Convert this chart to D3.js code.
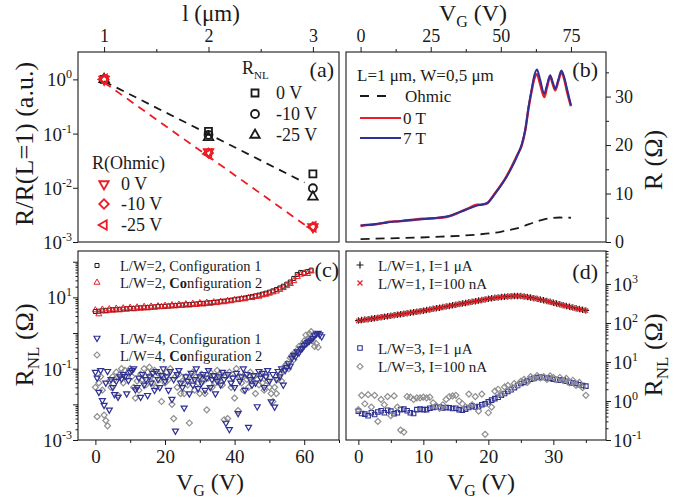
<!DOCTYPE html>
<html>
<head>
<meta charset="utf-8">
<script src="https://cdn.jsdelivr.net/npm/d3@7"></script>
<style>
  body { margin: 0; background: #fff; }
  svg { font-family: "Liberation Serif", "Times New Roman", serif; }
</style>
</head>
<body>
<svg id="fig" width="690" height="498"></svg>
<script>
// ---- panel (a): normalised R vs length
var lengths = [1, 2, 3];
var rnl0V = [1, 0.11, 0.018];
var rnl10V = [1, 0.095, 0.0098];
var rnl25V = [1, 0.085, 0.0068];
var ohm0V = [1, 0.046, 0.0019];
var ohm10V = [1, 0.044, 0.0019];
var ohm25V = [1, 0.042, 0.0019];
var fitRnl = [[1, 0.92], [2.92, 0.0125]];
var fitOhm = [[1, 0.88], [2.95, 0.0019]];

// ---- panel (b): R vs VG
var vgB = [0, 2, 5, 8, 10.5, 14, 18, 22, 26, 30, 32, 34, 36.5, 39, 41.5, 43, 45, 46.5, 48, 50, 52, 54, 56, 57.5, 58.7, 59.9, 61, 62, 62.9, 64, 65.5, 66.5, 67.6, 68.5, 69.4, 70.5, 71.6, 72.6, 73.6, 75];
var r7T = [3.4, 3.5, 3.7, 3.9, 4.1, 4.3, 4.6, 4.7, 4.9, 5.2, 5.4, 5.9, 6.4, 7.0, 7.5, 7.7, 8.0, 8.8, 10.0, 11.6, 13.4, 15.5, 18.0, 20.2, 23.1, 27.9, 31.5, 34.5, 35.6, 33.5, 30.6, 32.5, 34.4, 33.0, 31.6, 33.5, 35.4, 34.0, 31.6, 28.2];
var r0T = [3.3, 3.5, 3.6, 3.9, 4.2, 4.3, 4.5, 4.8, 4.9, 5.1, 5.4, 5.8, 6.5, 7.1, 7.7, 7.7, 7.9, 8.9, 10.1, 11.7, 13.5, 15.7, 18.1, 20.0, 23.0, 27.6, 31.2, 33.8, 34.6, 32.6, 29.9, 32.0, 34.1, 32.6, 31.3, 33.2, 35.0, 33.6, 31.0, 28.0];
var vgOhm = [0, 10, 20, 28.6, 36, 42.9, 47, 50, 53, 55.7, 58.5, 61.6, 64.5, 67.6, 71, 75];
var rOhm = [0.6, 0.75, 0.9, 1.1, 1.3, 1.6, 1.85, 2.1, 2.45, 2.8, 3.35, 4.0, 4.5, 4.9, 5.05, 5.0];

// ---- panel (c): RNL vs VG (VG step 1 V for L/W=2, 0.5 V for L/W=4)
var lw2conf1 = [4.0, 4.1, 4.2, 4.3, 4.4, 4.5, 4.5, 4.6, 4.7, 4.8, 4.9, 4.9, 5.0, 5.1, 5.1, 5.2, 5.3, 5.4, 5.5, 5.6,
  5.6, 5.7, 5.8, 5.9, 6.0, 6.1, 6.2, 6.3, 6.4, 6.5, 6.7, 6.8, 6.9, 7.1, 7.2, 7.4, 7.6, 7.8, 8.0, 8.3,
  8.6, 8.9, 9.2, 9.6, 10.0, 10.5, 11.0, 11.6, 12.3, 13.1, 14.0, 15.2, 16.6, 18.4, 20.6, 23.5, 27, 34, 44, 50,
  47, 53, 58];
var lw2conf2 = [4.4, 3.4, 4.6, 4.1, 4.7, 4.3, 4.9, 4.4, 5.0, 4.6, 5.2, 4.7, 5.3, 4.9, 5.5, 5.0, 5.6, 5.2, 5.7, 5.4,
  5.9, 5.6, 6.1, 5.7, 6.3, 5.9, 6.5, 6.0, 6.7, 6.2, 7.0, 6.4, 7.2, 6.7, 7.4, 7.0, 7.7, 7.4, 8.1, 7.9,
  8.6, 8.5, 9.1, 9.0, 9.8, 9.7, 10.6, 10.6, 11.5, 12.0, 12.9, 14.0, 14.8, 16.5, 18.5, 21, 24, 29, 38, 44,
  48, 46, 54];
var lw4conf1 = [0.08, 0.055, 0.022, 0.09, 0.013, 0.0095, 0.04, 0.085, 0.007, 0.05, 0.03,
  0.019, 0.045, 0.016, 0.06, 0.052, 0.07, 0.061, 0.02, 0.047, 0.08,
  0.09, 0.1, 0.026, 0.03, 0.055, 0.016, 0.07, 0.035, 0.05, 0.018,
  0.06, 0.04, 0.075, 0.025, 0.085, 0.05, 0.03, 0.065, 0.1, 0.045,
  0.06, 0.025, 0.085, 0.014, 0.05, 0.0018, 0.07, 0.09, 0.04, 0.03,
  0.008, 0.06, 0.045, 0.02, 0.075, 0.035, 0.05, 0.1, 0.028, 0.06,
  0.04, 0.07, 0.025, 0.055, 0.09, 0.03, 0.05, 0.065, 0.02, 0.045,
  0.06, 0.035, 0.08, 0.05, 0.003, 0.07, 0.002, 0.04, 0.055, 0.03,
  0.075, 0.0056, 0.045, 0.06, 0.1, 0.025, 0.07, 0.0023, 0.05, 0.035,
  0.065, 0.04, 0.0087, 0.085, 0.055, 0.075, 0.03, 0.06, 0.09, 0.045,
  0.012, 0.07, 0.0085, 0.05, 0.085, 0.06, 0.1, 0.035, 0.09, 0.11,
  0.14, 0.12, 0.2, 0.24, 0.22, 0.3, 0.28, 0.36, 0.38, 0.45,
  0.5, 0.55, 0.6, 0.65, 0.72, 0.85, 0.95, 1.0, 0.9, 0.8];
var lw4conf2 = [0.03, 0.0045, 0.04, 0.06, 0.025, 0.005, 0.0035, 0.0025, 0.045, 0.03, 0.06,
  0.05, 0.08, 0.018, 0.07, 0.1, 0.04, 0.09, 0.06, 0.08, 0.1,
  0.06, 0.03, 0.015, 0.045, 0.025, 0.07, 0.05, 0.1, 0.035, 0.08,
  0.11, 0.06, 0.04, 0.09, 0.03, 0.075, 0.05, 0.012, 0.065, 0.04,
  0.08, 0.05, 0.1, 0.01, 0.004, 0.06, 0.03, 0.07, 0.02, 0.045,
  0.02, 0.06, 0.035, 0.003, 0.05, 0.08, 0.025, 0.06, 0.04, 0.02,
  0.07, 0.045, 0.02, 0.007, 0.055, 0.08, 0.03, 0.06, 0.04, 0.09,
  0.05, 0.07, 0.035, 0.0037, 0.06, 0.004, 0.08, 0.03, 0.055, 0.015,
  0.1, 0.0067, 0.06, 0.04, 0.025, 0.07, 0.05, 0.03, 0.08, 0.045,
  0.06, 0.02, 0.05, 0.035, 0.07, 0.04, 0.025, 0.06, 0.045, 0.03,
  0.02, 0.012, 0.03, 0.02, 0.05, 0.07, 0.045, 0.09, 0.12, 0.14,
  0.1, 0.2, 0.24, 0.18, 0.3, 0.28, 0.42, 0.35, 0.5, 0.6,
  0.88, 0.7, 0.95, 1.1, 0.6, 0.42, 0.5, 0.4];

// ---- panel (d): RNL vs VG, VG step 0.5 V from 0 to 35 V
var lw1i1uA = [115, 118.5, 122, 125.5, 129, 133, 137, 141, 145, 149.5, 154,
  158.5, 163, 168, 173, 178, 183, 189, 195, 201, 207,
  214, 222, 230, 238, 246, 255, 264, 274, 284, 295,
  305, 316, 327, 338, 350, 362, 375, 388, 402, 417,
  430, 442, 453, 463, 472, 480, 487, 492, 493, 490,
  478, 464, 449, 433, 416, 399, 382, 365, 348, 330,
  315, 300, 286, 273, 260, 248, 237, 227, 218, 210];
var lw1i100nA = [113, 117, 121, 124, 128, 132, 136, 140, 144, 148, 153,
  157, 162, 167, 172, 177, 182, 188, 194, 200, 206,
  213, 220, 228, 236, 245, 254, 263, 272, 283, 293,
  303, 314, 325, 336, 348, 360, 372, 386, 400, 414,
  427, 440, 451, 461, 470, 478, 485, 490, 491, 488,
  476, 462, 447, 431, 414, 397, 380, 363, 346, 329,
  313, 298, 284, 271, 258, 246, 235, 225, 216, 208];
var lw3i1uA = [0.55, 0.48, 0.46, 0.42, 0.5, 0.45, 0.52, 0.56, 0.5, 0.58, 0.55,
  0.47, 0.5, 0.6, 0.62, 0.56, 0.5, 0.48, 0.6, 0.62, 0.6,
  0.6, 0.65, 0.68, 0.7, 0.7, 0.66, 0.68, 0.67, 0.64, 0.65,
  0.6, 0.58, 0.62, 0.68, 0.75, 0.7, 0.72, 0.8, 0.85, 0.95,
  1.05, 1.15, 1.25, 1.4, 1.55, 1.75, 1.95, 2.2, 2.5, 2.8,
  3.0, 3.3, 3.6, 3.8, 4.0, 4.1, 4.0, 3.9, 3.8, 3.6,
  3.5, 3.4, 3.5, 3.2, 3.0, 2.9, 2.8, 2.6, 2.5, 2.4];
var lw3i100nA = [0.6, 1.4, 0.85, 1.45, 0.7, 1.4, 0.3, 1.1, 0.8, 1.3, 0.42,
  1.35, 0.7, 0.18, 0.16, 1.3, 1.25, 1.1, 1.2, 1.2, 1.25,
  1.2, 1.25, 0.9, 0.75, 0.65, 0.8, 1.1, 1.3, 1.35, 1.4,
  1.0, 0.85, 0.7, 1.5, 0.8, 1.3, 0.55, 1.5, 0.14, 0.5,
  0.7, 1.8, 2.0, 1.5, 2.3, 2.5, 2.0, 2.8, 2.5, 3.2,
  3.6, 3.0, 4.2, 3.8, 4.5, 3.9, 4.2, 3.6, 4.4, 4.0,
  3.5, 4.0, 3.3, 3.8, 2.9, 3.4, 2.5, 3.0, 2.2, 1.4];

var RED = "#ec1c24", BLUE = "#2e3192", GRAY = "#8f8f8f", INK = "#1a1a1a";

var svg = d3.select("#fig");

// panel frames
var A = {l: 78, r: 339, t: 52, b: 242};
var B = {l: 346, r: 606, t: 52, b: 242};
var C = {l: 78, r: 339, t: 251, b: 440};
var D = {l: 346, r: 606, t: 251, b: 440};

var xa = d3.scaleLinear().domain([0.75, 3.25]).range([A.l, A.r]);
var ya = d3.scaleLog().domain([1e-3, 3.2]).range([A.b, A.t]);
var xb = d3.scaleLinear().domain([-5.2, 87.5]).range([B.l, B.r]);
var yb = d3.scaleLinear().domain([0, 39.2]).range([B.b, B.t]);
var xc = d3.scaleLinear().domain([-5, 70]).range([C.l, C.r]);
var yc = d3.scaleLog().domain([1e-3, 200]).range([C.b, C.t]);
var xd = d3.scaleLinear().domain([-1.9, 38.1]).range([D.l, D.r]);
var yd = d3.scaleLog().domain([0.1, 7000]).range([D.b, D.t]);

function steps(n, dv) { return d3.range(n).map(function(i){ return i * dv; }); }

function minorLog(lo, hi) {
  var out = [];
  for (var e = lo; e < hi; e++) for (var m = 2; m <= 9; m++) out.push(m * Math.pow(10, e));
  return out;
}

function styleAxis(g) {
  g.select(".domain").remove();
  g.selectAll(".tick line").attr("stroke", INK).attr("stroke-width", 1);
  g.selectAll(".tick text").attr("fill", INK);
}

function supLabel(sel, exp) {
  sel.append("tspan").text("10");
  sel.append("tspan").attr("dy", -8).attr("font-size", 12).text(exp);
}

// ---------- axes ----------
// (a) top linear, left log
svg.append("g").attr("transform", "translate(0," + A.t + ")")
  .call(d3.axisTop(xa).tickValues([1, 2, 3]).tickSize(5).tickPadding(5).tickFormat(d3.format("d")))
  .call(styleAxis).attr("font-family", null).attr("font-size", 18);
svg.append("g").attr("transform", "translate(0," + A.t + ")")
  .call(d3.axisTop(xa).tickValues([1.5, 2.5]).tickSize(3).tickFormat(""))
  .call(styleAxis);
svg.append("g").attr("transform", "translate(" + A.l + ",0)")
  .call(d3.axisLeft(ya).tickValues([1e-3, 1e-2, 1e-1, 1]).tickSize(5).tickFormat(""))
  .call(styleAxis);
[-3, -2, -1, 0].forEach(function(e){
  var t = svg.append("text").attr("x", 72).attr("y", ya(Math.pow(10, e)) + 7)
    .attr("text-anchor", "end").attr("font-size", 19).attr("fill", INK);
  supLabel(t, e);
});

// (b) top linear, right linear
svg.append("g").attr("transform", "translate(0," + B.t + ")")
  .call(d3.axisTop(xb).tickValues([0, 25, 50, 75]).tickSize(5).tickPadding(5).tickFormat(d3.format("d")))
  .call(styleAxis).attr("font-family", null).attr("font-size", 18);
svg.append("g").attr("transform", "translate(0," + B.t + ")")
  .call(d3.axisTop(xb).tickValues([12.5, 37.5, 62.5]).tickSize(3).tickFormat(""))
  .call(styleAxis);
svg.append("g").attr("transform", "translate(" + B.r + ",0)")
  .call(d3.axisRight(yb).tickValues([0, 10, 20, 30]).tickSize(5).tickPadding(4).tickFormat(d3.format("d")))
  .call(styleAxis).attr("font-family", null).attr("font-size", 18);
svg.append("g").attr("transform", "translate(" + B.r + ",0)")
  .call(d3.axisRight(yb).tickValues([5, 15, 25, 35]).tickSize(3).tickFormat(""))
  .call(styleAxis);

// (c) bottom linear, left log
svg.append("g").attr("transform", "translate(0," + C.b + ")")
  .call(d3.axisBottom(xc).tickValues([0, 20, 40, 60]).tickSize(5).tickPadding(5).tickFormat(d3.format("d")))
  .call(styleAxis).attr("font-family", null).attr("font-size", 19);
svg.append("g").attr("transform", "translate(0," + C.b + ")")
  .call(d3.axisBottom(xc).tickValues([10, 30, 50, 70]).tickSize(3).tickFormat(""))
  .call(styleAxis);
svg.append("g").attr("transform", "translate(" + C.l + ",0)")
  .call(d3.axisLeft(yc).tickValues([1e-3, 1e-2, 1e-1, 1, 10, 100]).tickSize(5).tickFormat(""))
  .call(styleAxis);
svg.append("g").attr("transform", "translate(" + C.l + ",0)")
  .call(d3.axisLeft(yc).tickValues(minorLog(-3, 2).filter(function(v){ return v <= 200; })).tickSize(2.5).tickFormat(""))
  .call(styleAxis);
[-3, -1, 1].forEach(function(e){
  var t = svg.append("text").attr("x", 72).attr("y", yc(Math.pow(10, e)) + 7)
    .attr("text-anchor", "end").attr("font-size", 19).attr("fill", INK);
  supLabel(t, e);
});

// (d) bottom linear, right log
svg.append("g").attr("transform", "translate(0," + D.b + ")")
  .call(d3.axisBottom(xd).tickValues([0, 10, 20, 30]).tickSize(5).tickPadding(5).tickFormat(d3.format("d")))
  .call(styleAxis).attr("font-family", null).attr("font-size", 19);
svg.append("g").attr("transform", "translate(0," + D.b + ")")
  .call(d3.axisBottom(xd).tickValues([5, 15, 25, 35]).tickSize(3).tickFormat(""))
  .call(styleAxis);
svg.append("g").attr("transform", "translate(" + D.r + ",0)")
  .call(d3.axisRight(yd).tickValues([0.1, 1, 10, 100, 1000]).tickSize(5).tickFormat(""))
  .call(styleAxis);
svg.append("g").attr("transform", "translate(" + D.r + ",0)")
  .call(d3.axisRight(yd).tickValues(minorLog(-1, 4).filter(function(v){ return v <= 7000; })).tickSize(2.5).tickFormat(""))
  .call(styleAxis);
[-1, 0, 1, 2, 3].forEach(function(e){
  var t = svg.append("text").attr("x", D.r + 7).attr("y", yd(Math.pow(10, e)) + 7)
    .attr("font-size", 19).attr("fill", INK);
  supLabel(t, e);
});

// frames
[A, B, C, D].forEach(function(p){
  svg.append("rect").attr("x", p.l).attr("y", p.t).attr("width", p.r - p.l).attr("height", p.b - p.t)
    .attr("fill", "none").attr("stroke", INK).attr("stroke-width", 1.1);
});

// ---------- markers ----------
// s = visual width of the marker in px
function marker(g, kind, x, y, s, color, sw) {
  var p;
  if (kind === "plus" || kind === "x") {
    var h = s / 2;
    p = g.append("path").attr("d", "M" + (-h) + ",0H" + h + "M0," + (-h) + "V" + h)
      .attr("fill", "none")
      .attr("transform", "translate(" + x + "," + y + ")" + (kind === "x" ? " rotate(45)" : ""));
  } else {
    var type, area, rot = 0;
    if (kind === "square") { type = d3.symbolSquare; area = s * s; }
    else if (kind === "circle") { type = d3.symbolCircle; area = Math.PI / 4 * s * s; }
    else if (kind === "diamond") { type = d3.symbolSquare; area = s * s / 2; rot = 45; }
    else { type = d3.symbolTriangle; area = Math.sqrt(3) / 4 * s * s;
      rot = kind === "down" ? 180 : (kind === "left" ? -90 : 0); }
    p = g.append("path").attr("d", d3.symbol().type(type).size(area)())
      .attr("transform", "translate(" + x + "," + y + ") rotate(" + rot + ")")
      .attr("fill", "none");
  }
  p.attr("stroke", color).attr("stroke-width", sw);
  return p;
}

function scatter(xs, ys, sx, sy, kind, s, color, sw) {
  var g = svg.append("g");
  ys.forEach(function(v, i){ marker(g, kind, sx(xs[i]), sy(v), s, color, sw); });
}

// ---------- panel (a) ----------
var dashLine = d3.line().x(function(d){ return xa(d[0]); }).y(function(d){ return ya(d[1]); });
svg.append("path").attr("d", dashLine(fitRnl)).attr("fill", "none").attr("stroke", INK)
  .attr("stroke-width", 1.8).attr("stroke-dasharray", "8,6");
svg.append("path").attr("d", dashLine(fitOhm)).attr("fill", "none").attr("stroke", RED)
  .attr("stroke-width", 1.8).attr("stroke-dasharray", "8,6");
scatter(lengths, rnl0V, xa, ya, "square", 7, INK, 1.8);
scatter(lengths, rnl10V, xa, ya, "circle", 8, INK, 1.8);
scatter(lengths, rnl25V, xa, ya, "tri", 9.5, INK, 1.8);
scatter(lengths, ohm0V, xa, ya, "down", 9.5, RED, 1.8);
scatter(lengths, ohm10V, xa, ya, "diamond", 9, RED, 1.8);
scatter(lengths, ohm25V, xa, ya, "left", 9.5, RED, 1.8);

// legend (a)
var la = svg.append("g").attr("font-size", 18).attr("fill", INK);
var rt = la.append("text").attr("x", 242).attr("y", 74);
rt.append("tspan").text("R");
rt.append("tspan").attr("dy", 5).attr("font-size", 11).text("NL");
[["square", "0 V", 93, 7], ["circle", "-10 V", 114, 8], ["tri", "-25 V", 135, 9.5]].forEach(function(e){
  marker(la, e[0], 255, e[2], e[3], INK, 1.8);
  la.append("text").attr("x", 276).attr("y", e[2] + 6).text(e[1]);
});
la.append("text").attr("x", 92).attr("y", 169).text("R(Ohmic)");
[["down", "0 V", 184], ["diamond", "-10 V", 204], ["left", "-25 V", 225]].forEach(function(e){
  marker(la, e[0], 104, e[2], 9.5, RED, 1.8);
  la.append("text").attr("x", 121).attr("y", e[2] + 6).text(e[1]);
});
svg.append("text").attr("x", 334).attr("y", 77).attr("text-anchor", "end")
  .attr("font-size", 22).attr("fill", INK).text("(a)");

// ---------- panel (b) ----------
function lineB(xs, ys) {
  return d3.line().curve(d3.curveMonotoneX)
    .x(function(d, i){ return xb(xs[i]); }).y(function(d){ return yb(d); })(ys);
}
svg.append("path").attr("d", lineB(vgOhm, rOhm)).attr("fill", "none").attr("stroke", INK)
  .attr("stroke-width", 1.8).attr("stroke-dasharray", "9,6");
svg.append("path").attr("d", lineB(vgB, r0T)).attr("fill", "none").attr("stroke", RED).attr("stroke-width", 2.4);
svg.append("path").attr("d", lineB(vgB, r7T)).attr("fill", "none").attr("stroke", BLUE).attr("stroke-width", 2);

var lb = svg.append("g").attr("font-size", 17).attr("fill", INK);
lb.append("text").attr("x", 357).attr("y", 81).text("L=1 \u03bcm, W=0,5 \u03bcm");
lb.append("line").attr("x1", 360).attr("x2", 392).attr("y1", 96).attr("y2", 96)
  .attr("stroke", INK).attr("stroke-width", 1.8).attr("stroke-dasharray", "9,8");
lb.append("text").attr("x", 405).attr("y", 102).text("Ohmic");
lb.append("line").attr("x1", 360).attr("x2", 401).attr("y1", 118).attr("y2", 118)
  .attr("stroke", RED).attr("stroke-width", 2.2);
lb.append("text").attr("x", 403).attr("y", 124).text("0 T");
lb.append("line").attr("x1", 360).attr("x2", 401).attr("y1", 138).attr("y2", 138)
  .attr("stroke", BLUE).attr("stroke-width", 2.2);
lb.append("text").attr("x", 403).attr("y", 144).text("7 T");
svg.append("text").attr("x", 598).attr("y", 77).attr("text-anchor", "end")
  .attr("font-size", 22).attr("fill", INK).text("(b)");

// ---------- panel (c) ----------
scatter(steps(lw2conf1.length, 1), lw2conf1, xc, yc, "square", 4, INK, 1);
scatter(steps(lw2conf2.length, 1), lw2conf2, xc, yc, "tri", 6, RED, 1);
scatter(steps(lw4conf2.length, 0.5), lw4conf2, xc, yc, "diamond", 6, GRAY, 1.2);
scatter(steps(lw4conf1.length, 0.5), lw4conf1, xc, yc, "down", 6, BLUE, 1.2);

var lc = svg.append("g").attr("font-size", 14.5).attr("fill", INK);
function confText(y, lw, num) {
  var t = lc.append("text").attr("x", 120).attr("y", y);
  t.append("tspan").text("L/W=" + lw + ", ");
  if (num === 2) {
    t.append("tspan").attr("font-weight", "bold").text("Co");
    t.append("tspan").text("nfiguration 2");
  } else {
    t.append("tspan").text("Configuration 1");
  }
}
marker(lc, "square", 97, 265.5, 4, INK, 1); confText(271, 2, 1);
marker(lc, "tri", 97, 282.5, 6, RED, 1); confText(288, 2, 2);
marker(lc, "down", 97, 338, 6, BLUE, 1.2); confText(343.5, 4, 1);
marker(lc, "diamond", 97, 355, 6, GRAY, 1.2); confText(360.5, 4, 2);
svg.append("text").attr("x", 339).attr("y", 277).attr("text-anchor", "end")
  .attr("font-size", 22).attr("fill", INK).text("(c)");

// ---------- panel (d) ----------
scatter(steps(lw1i1uA.length, 0.5), lw1i1uA, xd, yd, "plus", 6.5, INK, 1.1);
scatter(steps(lw1i100nA.length, 0.5), lw1i100nA, xd, yd, "x", 6.5, RED, 1.1);
scatter(steps(lw3i1uA.length, 0.5), lw3i1uA, xd, yd, "square", 4.5, BLUE, 1.1);
scatter(steps(lw3i100nA.length, 0.5), lw3i100nA, xd, yd, "diamond", 6, GRAY, 1.2);

var ld = svg.append("g").attr("font-size", 15).attr("fill", INK);
marker(ld, "plus", 360, 265, 7, INK, 1.2);
ld.append("text").attr("x", 378).attr("y", 270.5).text("L/W=1, I=1 \u03bcA");
marker(ld, "x", 360, 283, 7, RED, 1.2);
ld.append("text").attr("x", 378).attr("y", 288.5).text("L/W=1, I=100 nA");
marker(ld, "square", 360, 348, 4.5, BLUE, 1.1);
ld.append("text").attr("x", 378).attr("y", 353.5).text("L/W=3, I=1 \u03bcA");
marker(ld, "diamond", 360, 366.5, 6, GRAY, 1.2);
ld.append("text").attr("x", 378).attr("y", 372).text("L/W=3, I=100 nA");
svg.append("text").attr("x", 598).attr("y", 279).attr("text-anchor", "end")
  .attr("font-size", 22).attr("fill", INK).text("(d)");

// ---------- axis titles ----------
function vgTitle(x, y) {
  var t = svg.append("text").attr("x", x).attr("y", y).attr("text-anchor", "middle")
    .attr("font-size", 24).attr("fill", INK);
  t.append("tspan").text("V");
  t.append("tspan").attr("dy", 6).attr("font-size", 16).text("G");
  t.append("tspan").attr("dy", -6).text(" (V)");
}
function rnlTitle(x, y) {
  var t = svg.append("text").attr("transform", "translate(" + x + "," + y + ") rotate(-90)")
    .attr("text-anchor", "middle").attr("font-size", 26).attr("fill", INK);
  t.append("tspan").text("R");
  t.append("tspan").attr("dy", 6).attr("font-size", 17).text("NL");
  t.append("tspan").attr("dy", -6).text(" (\u03a9)");
}
svg.append("text").attr("x", 211).attr("y", 21).attr("text-anchor", "middle")
  .attr("font-size", 23).attr("fill", INK).text("l (\u03bcm)");
vgTitle(473, 21);
vgTitle(210, 490);
vgTitle(481, 490);
svg.append("text").attr("transform", "translate(33,144) rotate(-90)").attr("text-anchor", "middle")
  .attr("font-size", 26).attr("fill", INK).text("R/R(L=1) (a.u.)");
svg.append("text").attr("transform", "translate(662,160) rotate(-90)").attr("text-anchor", "middle")
  .attr("font-size", 26).attr("fill", INK).text("R (\u03a9)");
rnlTitle(33, 345);
rnlTitle(662, 355);
</script>
</body>
</html>
